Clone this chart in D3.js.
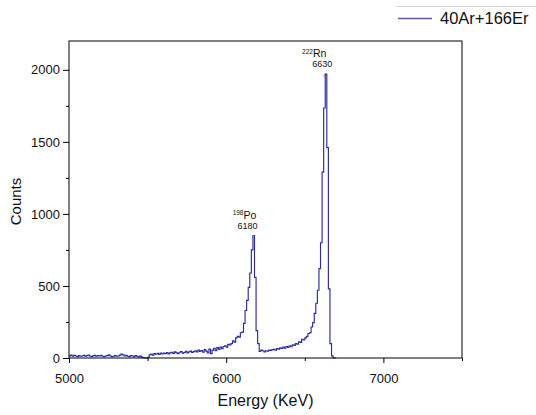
<!DOCTYPE html>
<html>
<head>
<meta charset="utf-8">
<script src="https://cdn.jsdelivr.net/npm/d3@7"></script>
<style>
  html, body { margin: 0; padding: 0; background: #fff; }
  text { font-family: "Liberation Sans", Arial, sans-serif; fill: #111; }
</style>
</head>
<body>
<svg id="chart" width="536" height="415"></svg>
<script>
// ---- data ----
const binStart = 5000;
const binWidth = 10;
const counts = [
  15, 20, 12, 18, 14, 10, 16, 12, 14, 18,
  12, 16, 20, 14, 10, 15, 18, 12, 16, 14,
  18, 12, 10, 14, 16, 22, 14, 10, 12, 16,
  12, 14, 20, 28, 22, 14, 18, 12, 10, 16,
  14, 10, 16, 12, 8, 14, 6, 2, 0, 0,
  5, 22, 28, 20, 30, 26, 32, 24, 35, 28,
  34, 30, 38, 28, 36, 40, 32, 42, 36, 30,
  40, 44, 34, 38, 46, 36, 42, 48, 38, 44,
  50, 42, 55, 46, 52, 40, 58, 48, 35, 62,
  30, 55, 68, 50, 72, 60, 75, 64, 80, 85,
  75, 95, 90, 100, 120, 110, 140, 150, 145, 175,
  180, 240, 330, 400, 490, 590, 750, 850, 560, 190,
  100, 45, 55, 50, 42, 50, 48, 55, 52, 58,
  60, 55, 65, 62, 70, 66, 75, 68, 80, 74,
  85, 78, 92, 88, 100, 96, 112, 108, 130, 125,
  140, 150, 170, 175, 215, 245, 310, 380, 470, 620,
  800, 1290, 1735, 1970, 1460, 480, 100, 15, 0, 0
];
const peakIsotopes = ["Po", "Rn"];
const peakMass = ["198", "222"];
const peakEnergy = [6180, 6630];
const peakCounts = [850, 1970];
const xTicks = [5000, 6000, 7000];
const xMinorTicks = [5500, 6500, 7500];
const yTicks = [0, 500, 1000, 1500, 2000];
const yMinorTicks = [250, 750, 1250, 1750];
const seriesName = "40Ar+166Er";
const xLabel = "Energy (KeV)";
const yLabel = "Counts";

// ---- layout ----
const svg = d3.select("#chart");
const L = 69, R = 462, T = 41, B = 358;
const x = d3.scaleLinear().domain([5000, 7500]).range([L, R]);
const y = d3.scaleLinear().domain([0, 2200]).range([B, T]);
const lineColor = "#2b2b9c";
// label offsets (layout only): [isotope label dx, energy label dx]
const labelDx = [[-9, -6], [-10, -2]];

const pts = counts.map((c, i) => [binStart + i * binWidth, c]);
pts.push([binStart + counts.length * binWidth, counts[counts.length - 1]]);

// data
svg.append("path")
  .datum(pts)
  .attr("fill", "none")
  .attr("stroke", lineColor)
  .attr("stroke-width", 1.15)
  .attr("d", d3.line().x(d => x(d[0])).y(d => y(d[1])).curve(d3.curveStepAfter));

// frame
svg.append("rect")
  .attr("x", L).attr("y", T).attr("width", R - L).attr("height", B - T)
  .attr("fill", "none").attr("stroke", "#000").attr("stroke-width", 1);

// x axis
const xAxis = svg.append("g").attr("transform", `translate(0,${B})`)
  .call(d3.axisBottom(x).tickValues(xTicks).tickSize(5).tickSizeOuter(0).tickFormat(d3.format("d")));
xAxis.select(".domain").remove();
xAxis.selectAll("text").attr("font-size", 13).attr("dy", "1.3em").style("font-family", "Liberation Sans, Arial, sans-serif");
svg.append("g").attr("transform", `translate(0,${B})`)
  .call(d3.axisBottom(x).tickValues(xMinorTicks).tickSize(3).tickFormat(""))
  .select(".domain").remove();

// y axis
const yAxis = svg.append("g").attr("transform", `translate(${L},0)`)
  .call(d3.axisLeft(y).tickValues(yTicks).tickSize(6).tickSizeOuter(0).tickFormat(d3.format("d")));
yAxis.select(".domain").remove();
yAxis.selectAll("text").attr("font-size", 13).attr("x", -9).style("font-family", "Liberation Sans, Arial, sans-serif");
svg.append("g").attr("transform", `translate(${L},0)`)
  .call(d3.axisLeft(y).tickValues(yMinorTicks).tickSize(3).tickFormat(""))
  .select(".domain").remove();

// axis titles
svg.append("text").attr("x", (L + R) / 2).attr("y", 406)
  .attr("text-anchor", "middle").attr("font-size", 16).text(xLabel);
svg.append("text").attr("transform", `translate(21,${(T + B) / 2 + 2}) rotate(-90)`)
  .attr("text-anchor", "middle").attr("font-size", 15).text(yLabel);

// peak annotations
peakEnergy.forEach((e, i) => {
  const px = x(e) - 1, py = y(peakCounts[i]);
  svg.append("line").attr("x1", px).attr("x2", px).attr("y1", py).attr("y2", py + 3)
    .attr("stroke", "#d9657a").attr("stroke-width", 1);
  const t = svg.append("text").attr("x", px + labelDx[i][0]).attr("y", py - 17)
    .attr("text-anchor", "middle").attr("font-size", 10.5);
  t.append("tspan").attr("font-size", 6.5).attr("dy", -3.5).text(peakMass[i]);
  t.append("tspan").attr("dy", 3.5).text(peakIsotopes[i]);
  svg.append("text").attr("x", px + labelDx[i][1]).attr("y", py - 7)
    .attr("text-anchor", "middle").attr("font-size", 9).text(String(e));
});

// legend
svg.append("line").attr("x1", 396).attr("x2", 536).attr("y1", 6.5).attr("y2", 6.5)
  .attr("stroke", "#d4d4d4").attr("stroke-width", 1);
svg.append("line").attr("x1", 398).attr("x2", 432).attr("y1", 18.5).attr("y2", 18.5)
  .attr("stroke", "#5a5aa8").attr("stroke-width", 1.5);
svg.append("text").attr("x", 440).attr("y", 24)
  .attr("font-size", 16.5).text(seriesName);
</script>
</body>
</html>
